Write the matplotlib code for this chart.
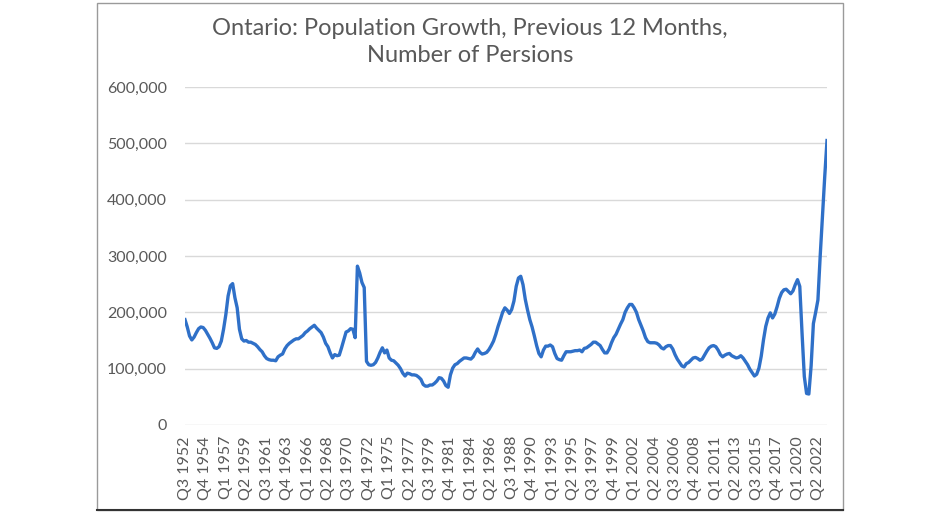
import matplotlib
matplotlib.use("Agg")
import matplotlib.pyplot as plt
from matplotlib.patches import Rectangle
from matplotlib.lines import Line2D
from matplotlib.ticker import FuncFormatter

# Ontario population growth over previous 12 months, quarterly Q3 1952 .. Q2 2023
# (thousands of persons)
growth_k = [
    187, 174, 158, 151, 156, 164, 171, 174, 173, 168,
    161, 154, 146, 137, 136, 139, 149, 170, 196, 229,
    247, 251, 226, 208, 170, 153, 149, 150, 147, 147,
    145, 143, 139, 134, 130, 123, 118, 116, 115, 115,
    114, 121, 124, 126, 135, 141, 145, 148, 151, 153,
    153, 156, 159, 164, 167, 171, 174, 177, 172, 168,
    164, 156, 145, 139, 128, 119, 125, 123, 124, 137,
    151, 165, 167, 171, 170, 155, 282, 270, 253, 244,
    113, 107, 106, 107, 111, 119, 129, 137, 128, 133,
    119, 115, 114, 110, 106, 100, 92, 87, 92, 91,
    89, 89, 88, 85, 81, 72, 69, 69, 71, 71,
    74, 78, 84, 83, 78, 70, 67, 89, 101, 107,
    109, 113, 116, 119, 119, 118, 117, 121, 129, 135,
    129, 126, 127, 129, 134, 141, 149, 161, 175, 187,
    200, 208, 204, 198, 205, 220, 246, 261, 264, 249,
    223, 204, 187, 174, 158, 141, 127, 121, 133, 140,
    140, 142, 139, 127, 118, 116, 115, 123, 130, 130,
    130, 131, 132, 132, 133, 130, 136, 137, 140, 143,
    147, 147, 144, 141, 134, 128, 128, 135, 146, 155,
    161, 170, 179, 187, 200, 208, 214, 214, 208, 200,
    187, 177, 167, 155, 148, 146, 146, 146, 145, 142,
    137, 135, 139, 141, 141, 135, 125, 117, 111, 105,
    103, 109, 111, 115, 119, 120, 118, 115, 117, 124,
    131, 137, 140, 141, 139, 133, 125, 121, 124, 126,
    127, 123, 121, 119, 120, 123, 119, 113, 107, 99,
    93, 87, 90, 101, 122, 151, 175, 190, 199, 190,
    197, 210, 225, 235, 240, 241, 237, 233, 238, 249,
    258, 246, 163, 86, 56, 55, 105, 180, 200, 222,
    300, 370, 441, 505,
]

# every 9th quarter is labelled
tick_labels = [
    "Q3 1952", "Q4 1954", "Q1 1957", "Q2 1959", "Q3 1961", "Q4 1963",
    "Q1 1966", "Q2 1968", "Q3 1970", "Q4 1972", "Q1 1975", "Q2 1977",
    "Q3 1979", "Q4 1981", "Q1 1984", "Q2 1986", "Q3 1988", "Q4 1990",
    "Q1 1993", "Q2 1995", "Q3 1997", "Q4 1999", "Q1 2002", "Q2 2004",
    "Q3 2006", "Q4 2008", "Q1 2011", "Q2 2013", "Q3 2015", "Q4 2017",
    "Q1 2020", "Q2 2022",
]
tick_step = 9

plt.rcParams["font.family"] = ["Lato", "DejaVu Sans"]
text_col = "#595959"

persons = [v * 1000 for v in growth_k]
xs = list(range(len(persons)))

fig = plt.figure(figsize=(9.4, 5.12), dpi=100)
ax = fig.add_axes([185 / 940, 1 - 425 / 512, (827 - 185) / 940, (425 - 87) / 512])

ax.plot(xs, persons, color="#2F70C8", lw=2.4, solid_joinstyle="round", zorder=3)

ax.set_xlim(0, len(persons) - 1)
ax.set_ylim(0, 600000)
ax.set_yticks(range(0, 600001, 100000))
ax.yaxis.set_major_formatter(FuncFormatter(lambda v, _: f"{int(v):,}"))
ax.set_xticks(xs[::tick_step][:len(tick_labels)])
ax.set_xticklabels(tick_labels, rotation=90)

ax.grid(axis="y", color="#d9d9d9", lw=1)
ax.set_axisbelow(True)
for s in ax.spines.values():
    s.set_visible(False)
ax.tick_params(length=0, labelsize=11.5, labelcolor=text_col)
ax.tick_params(axis="y", pad=13)
ax.tick_params(axis="x", pad=8)

fig.text(0.5, 1 - 42 / 512, "Ontario: Population Growth, Previous 12 Months,\nNumber of Persions",
         ha="center", va="center", fontsize=17, color=text_col, linespacing=1.33)

# outer chart frame
fig.patches.append(Rectangle((97 / 940, 2 / 512), (843 - 97) / 940, (509 - 2) / 512,
                             transform=fig.transFigure, fill=False,
                             edgecolor="#9a9a9a", lw=1))
fig.lines.append(Line2D([97 / 940, 843 / 940], [2 / 512, 2 / 512],
                        transform=fig.transFigure, color="#333333", lw=1.5))

fig.savefig("out.png", dpi=100)
